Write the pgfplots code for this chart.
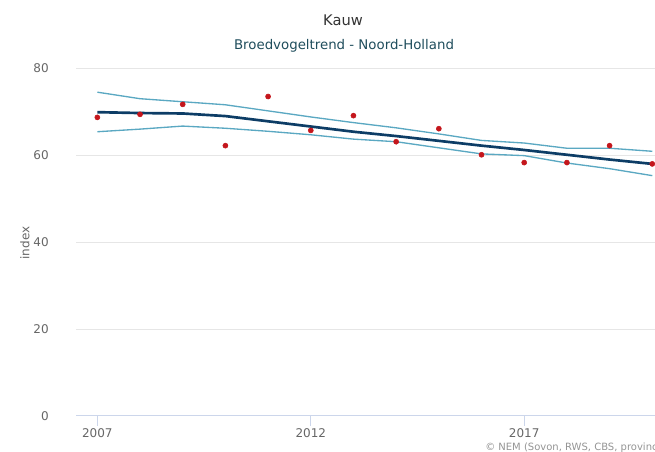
\documentclass[border=0pt]{standalone}
\usepackage{fontspec}
\setmainfont{DejaVu Sans}
\usepackage{pgfplots}
\pgfplotsset{compat=1.18}
\definecolor{trend}{HTML}{0D3D66}
\definecolor{band}{HTML}{5AA8C2}
\definecolor{pts}{HTML}{C4161C}
\definecolor{gridc}{HTML}{E6E6E6}
\definecolor{axisc}{HTML}{CCD6EB}
\definecolor{lab}{HTML}{666666}
\definecolor{ttl}{HTML}{333333}
\definecolor{sub}{HTML}{1F4D5C}
\begin{document}
\begin{tikzpicture}
\useasboundingbox (0,0) rectangle (491.25pt,339pt);
\begin{scope}
\clip (0,0) rectangle (491.25pt,339pt);
\begin{axis}[
  at={(57pt,27pt)}, anchor=south west,
  scale only axis, width=448.2pt, height=260.8pt,
  xmin=2006.5, xmax=2020.5, ymin=0, ymax=80,
  xtick={2007,2012,2017}, ytick={0,20,40,60,80},
  xticklabels={2007,2012,2017},
  /pgf/number format/assume math mode=true,
  ymajorgrids=true, xmajorgrids=false,
  y grid style={color=gridc, line width=0.75pt},
  axis x line*=bottom, axis y line*=left,
  x axis line style={axisc, line width=0.75pt, -},
  y axis line style={draw=none},
  xtick style={axisc, line width=0.75pt},
  ytick style={draw=none},
  tick align=outside,
  xtick pos=bottom,
  major tick length=7.5pt,
  tick label style={font=\fontsize{9pt}{10pt}\selectfont, text=lab},
  yticklabel style={anchor=east, inner sep=0pt, xshift=-12.75pt},
  xticklabel style={anchor=north, inner sep=0pt, yshift=-2pt},
  clip=false,
]
\addplot[band, line width=1pt] coordinates {
(2007,74.5)(2008,73.0)(2009,72.3)(2010,71.6)(2011,70.2)(2012,68.8)(2013,67.5)(2014,66.3)(2015,64.9)(2016,63.4)(2017,62.8)(2018,61.6)(2019,61.6)(2020,60.9)};
\addplot[band, line width=1pt] coordinates {
(2007,65.4)(2008,66.0)(2009,66.7)(2010,66.2)(2011,65.5)(2012,64.7)(2013,63.7)(2014,63.1)(2015,61.7)(2016,60.3)(2017,59.9)(2018,58.2)(2019,56.9)(2020,55.3)};
\addplot[trend, line width=2pt] coordinates {
(2007,69.9)(2008,69.7)(2009,69.6)(2010,69.0)(2011,67.8)(2012,66.6)(2013,65.4)(2014,64.4)(2015,63.3)(2016,62.2)(2017,61.2)(2018,60.1)(2019,59.0)(2020,58.0)};
\addplot[only marks, mark=*, mark size=1.9pt, pts, mark options={draw=pts, fill=pts}] coordinates {
(2007,68.7)(2008,69.4)(2009,71.7)(2010,62.2)(2011,73.5)(2012,65.7)(2013,69.1)(2014,63.1)(2015,66.1)(2016,60.1)(2017,58.3)(2018,58.3)(2019,62.2)(2020,58.0)};
\end{axis}
\end{scope}
\node[text=ttl, font=\fontsize{11pt}{13pt}\selectfont] at (257.25pt,324pt) {Kauw};
\node[text=sub, font=\fontsize{10pt}{12pt}\selectfont] at (258pt,304.5pt) {Broedvogeltrend - Noord-Holland};
\node[text=lab, rotate=90, font=\fontsize{9pt}{11pt}\selectfont] at (18.75pt,156.75pt) {index};
\node[text=lab!70, anchor=base west, inner sep=0pt, font=\fontsize{7.5pt}{9pt}\selectfont] at (363.75pt,1.5pt) {© NEM (Sovon, RWS, CBS, provincies)};
\end{tikzpicture}
\end{document}
